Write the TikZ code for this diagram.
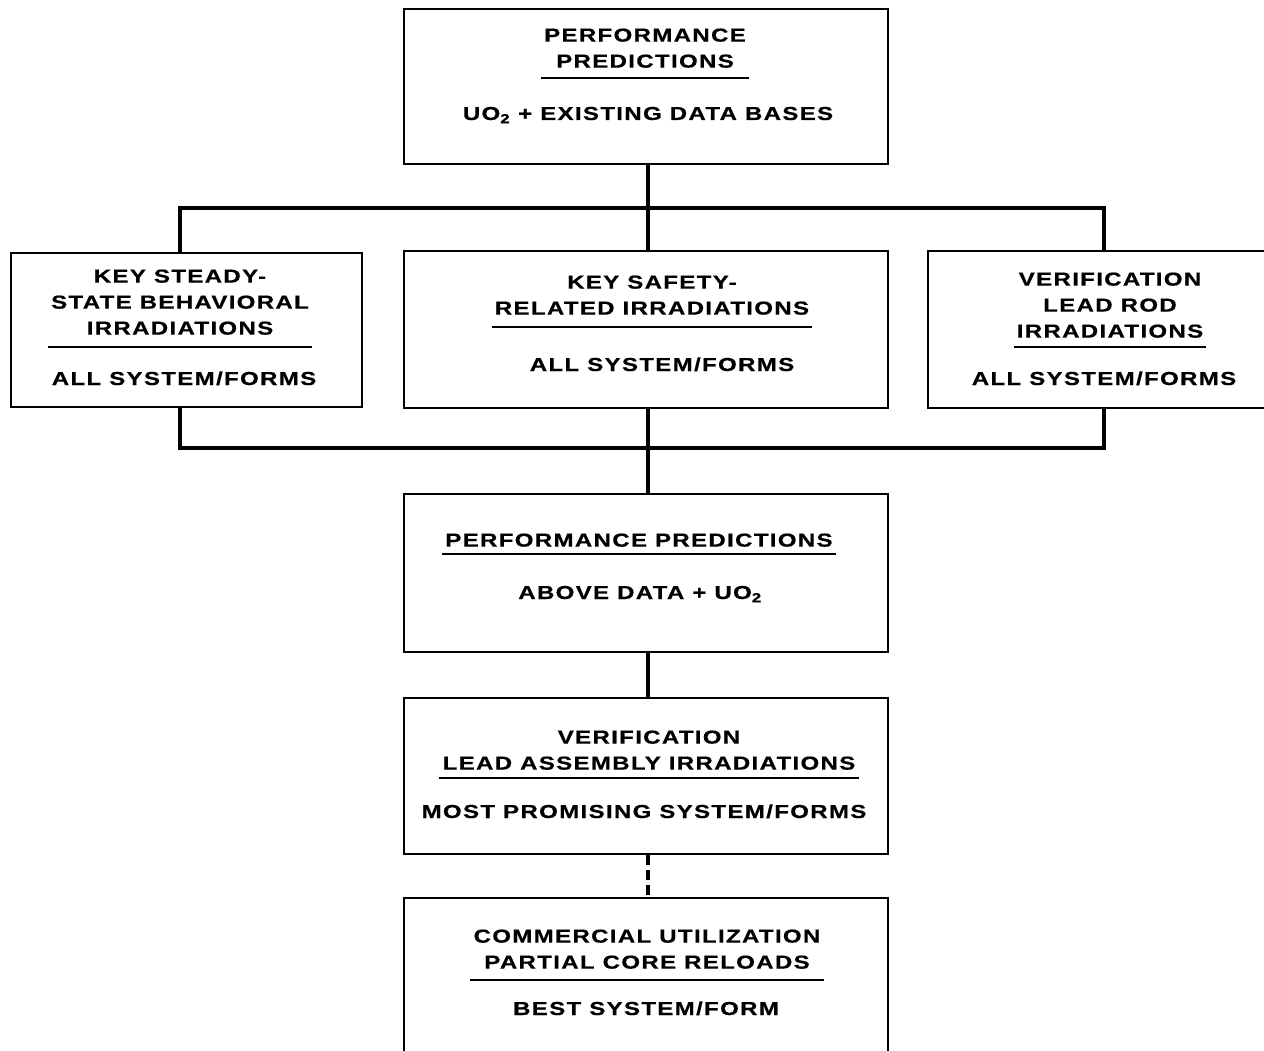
\documentclass[tikz,border=0pt]{standalone}
\usepackage{fontspec}
\newfontfamily\lblfont{Liberation Sans}[UprightFont={* Bold},BoldFont={* Bold},FakeStretch=1.28,LetterSpace=7,FakeBold=0.5]
\begin{document}
\begin{tikzpicture}[x=1pt,y=-1pt,
  every node/.style={font=\lblfont\fontsize{18.8}{26}\selectfont, inner sep=0pt, text=black},
  box/.style={draw, line width=1.9pt, anchor=north west, inner sep=0pt},
  conn/.style={line width=3.2pt},
  dconn/.style={line width=3.2pt, dash pattern=on 10pt off 5pt},
  uline/.style={line width=1.4pt},
  ttl/.style={anchor=south, align=center},
  sub/.style={anchor=base}]
\useasboundingbox[fill=white] (0,0) rectangle (1264,1051);

% boxes
\node[box, minimum width=484pt, minimum height=155pt] (top) at (403,8) {};
\node[box, minimum width=351pt, minimum height=154pt] (left) at (10,252) {};
\node[box, minimum width=484pt, minimum height=157pt] (mid) at (403,250) {};
\node[box, minimum width=352pt, minimum height=157pt] (right) at (927,250) {};
\node[box, minimum width=484pt, minimum height=158pt] (perf) at (403,493) {};
\node[box, minimum width=484pt, minimum height=156pt] (ver) at (403,697) {};
\node[box, minimum width=484pt, minimum height=190pt] (com) at (403,897) {};

% connectors
\coordinate (busT) at (648,208);
\coordinate (busTL) at (180,208);
\coordinate (busTR) at (1104,208);
\coordinate (busB) at (648,448);
\coordinate (busBL) at (180,448);
\coordinate (busBR) at (1104,448);
\draw[conn] (busT |- top.south) -- (busT);
\draw[conn] (busTL |- left.north) -- (busTL) -- (busTR) -- (busTR |- right.north);
\draw[conn] (busT) -- (busT |- mid.north);
\draw[conn] (busBL |- left.south) -- (busBL) -- (busBR) -- (busBR |- right.south);
\draw[conn] (busB |- mid.south) -- (busB |- perf.north);
\draw[conn] (busB |- perf.south) -- (busB |- ver.north);
\draw[dconn] (busB |- ver.south) -- (busB |- com.north);

% texts
\node[ttl] (t1) at (645,68) {PERFORMANCE\\PREDICTIONS};
\node[sub] (s1) at (648,120) {UO\textsubscript{2} + EXISTING DATA BASES};

\node[ttl] (t2) at (180,335) {KEY STEADY-\\STATE BEHAVIORAL\\IRRADIATIONS};
\node[sub] (s2) at (184,385) {ALL SYSTEM/FORMS};

\node[ttl] (t3) at (652,315) {KEY SAFETY-\\RELATED IRRADIATIONS};
\node[sub] (s3) at (662,371) {ALL SYSTEM/FORMS};

\node[ttl] (t4) at (1110,338) {VERIFICATION\\LEAD ROD\\IRRADIATIONS};
\node[sub] (s4) at (1104,385) {ALL SYSTEM/FORMS};

\node[ttl] (t5) at (639,547) {PERFORMANCE PREDICTIONS};
\node[sub] (s5) at (640,599) {ABOVE DATA + UO\textsubscript{2}};

\node[ttl] (t6) at (649,770) {VERIFICATION\\LEAD ASSEMBLY IRRADIATIONS};
\node[sub] (s6) at (644,818) {MOST PROMISING SYSTEM/FORMS};

\node[ttl] (t7) at (647,969) {COMMERCIAL UTILIZATION\\PARTIAL CORE RELOADS};
\node[sub] (s7) at (646,1015) {BEST SYSTEM/FORM};

% underlines
\foreach \t/\g in {t1/10,t2/12,t3/12,t4/9,t5/7,t6/8,t7/11}{
  \draw[uline] ([xshift=-3pt,yshift=-\g pt]\t.south west) -- ([xshift=3pt,yshift=-\g pt]\t.south east);
}
\end{tikzpicture}
\end{document}
